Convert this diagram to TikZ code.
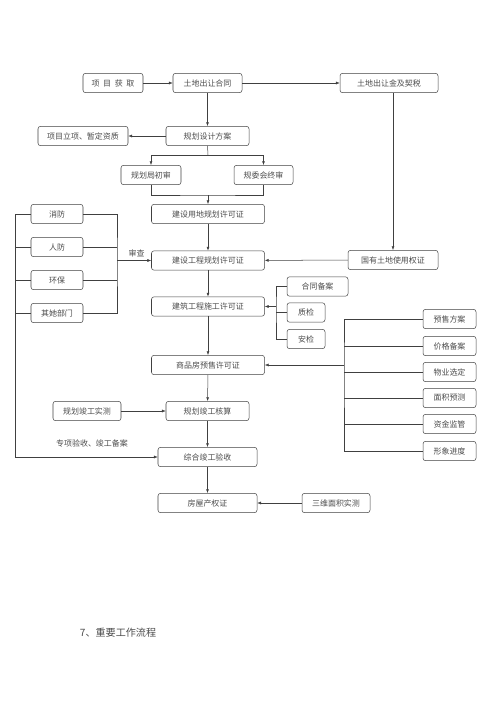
\documentclass[tikz,border=0pt]{standalone}
\usepackage{fontspec}
\newfontfamily\cjk{Noto Sans CJK SC}
\usetikzlibrary{arrows.meta}
\definecolor{linegray}{rgb}{0.25,0.25,0.25}
\definecolor{textgray}{rgb}{0.3,0.3,0.3}

\begin{document}
\begin{tikzpicture}[x=1.19pt,y=-1.19pt,
  box/.style={draw=linegray,rounded corners=3pt,line width=0.6pt,minimum height=23pt,minimum width=#1*1.19pt,inner sep=0pt,text=textgray,font=\cjk\fontsize{9.5}{11}\selectfont},
  box/.default=60,
  link/.style={draw=linegray,line width=0.6pt},
  arr/.style={link,-{Latex[length=4.5pt,width=3.5pt]}},
  note/.style={text=textgray,font=\cjk\fontsize{9.5}{11}\selectfont}]

  \useasboundingbox (0,0) rectangle (500,707);

  \node[box=60] (hq) at (113,83) {项\hspace{0.45em}目\hspace{0.45em}获\hspace{0.45em}取};
  \node[box=69] (ht) at (207.5,83) {土地出让合同};
  \node[box=98] (js) at (389,83) {土地出让金及契税};
  \node[box=83] (fa) at (207.5,136) {规划设计方案};
  \node[box=90] (lx) at (83,136) {项目立项、暂定资质};
  \node[box=60] (cs) at (151,175) {规划局初审};
  \node[box=59] (zs) at (263.5,175) {规委会终审};
  \node[box=113] (yd) at (208,214) {建设用地规划许可证};
  \node[box=113] (gc) at (208,260.5) {建设工程规划许可证};
  \node[box=113] (sg) at (208,306.5) {建筑工程施工许可证};
  \node[box=113] (ys) at (208,365) {商品房预售许可证};
  \node[box=83] (hs) at (207.5,411) {规划竣工核算};
  \node[box=99] (zh) at (207.5,457) {综合竣工验收};
  \node[box=99] (cq) at (207.5,503) {房屋产权证};
  \node[box=90] (gy) at (393,260) {国有土地使用权证};
  \node[box=68] (ss) at (87,411) {规划竣工实测};
  \node[box=68] (sw) at (336,503) {三维面积实测};

  \foreach \name/\txt/\y in {xf/消防/214, rf/人防/247, hb/环保/280, qt/其她部门/313}
    \node[box=52] (\name) at (57,\y) {\txt};

  \node[box=61] (ba) at (317.5,286.5) {合同备案};
  \node[box=38] (zj) at (306,312.5) {质检};
  \node[box=38] (aj) at (306,339) {安检};

  \foreach \name/\txt/\y in {ysfa/预售方案/319, jgba/价格备案/346, wyxd/物业选定/372,
                             mjyc/面积预测/398, zjjg/资金监管/424, xxjd/形象进度/451}
    \node[box=53] (\name) at (449.5,\y) {\txt};

  \coordinate (fork) at (208,155);
  \coordinate (join) at (208,195);
  \coordinate (lbus) at (15,457);
  \coordinate (rbus) at (117,260.5);
  \coordinate (qbus) at (276,306.5);
  \coordinate (sbus) at (344,365);

  \draw[arr] (hq) -- (ht);
  \draw[arr] (ht) -- (js);
  \draw[arr] (ht) -- (fa);
  \draw[arr] (fa) -- (lx);
  \draw[link] (fa.south) -- (fork);
  \draw[arr] (fork) -| (cs.north);
  \draw[arr] (fork) -| (zs.north);
  \draw[link] (cs.south) |- (join) -| (zs.south);
  \draw[arr] (join) -- (yd.north);
  \draw[arr] (yd) -- (gc);
  \draw[arr] (gy.north |- js.south) -- (gy.north);
  \draw[arr] (gy) -- (gc);
  \draw[arr] (gc) -- (sg);
  \draw[arr] (sg) -- (ys);
  \draw[arr] (ys) -- (hs);
  \draw[arr] (hs) -- (zh);
  \draw[arr] (zh) -- (cq);
  \draw[arr] (ss) -- (hs);
  \draw[arr] (sw) -- (cq);

  \draw[link] (xf.west) -| (lbus);
  \draw[link] (rf.west) -- (rf.west -| lbus);
  \draw[link] (hb.west) -- (hb.west -| lbus);
  \draw[link] (qt.west) -- (qt.west -| lbus);
  \draw[arr] (lbus) -- (zh.west);
  \draw[link] (xf.east) -| (rbus) |- (qt.east);
  \draw[link] (rf.east) -- (rf.east -| rbus);
  \draw[link] (hb.east) -- (hb.east -| rbus);
  \draw[arr] (rbus) -- node[note,above,xshift=3pt] (sc) {审查} (gc.west);

  \draw[link] (ba.west) -| (qbus) |- (aj.west);
  \draw[link] (zj.west) -- (zj.west -| qbus);
  \draw[arr] (qbus) -- (sg.east);

  \draw[link] (ysfa.west) -| (sbus) |- (xxjd.west);
  \foreach \name in {jgba,wyxd,mjyc,zjjg}
    \draw[link] (\name.west) -- (\name.west -| sbus);
  \draw[arr] (sbus) -- (ys.east);

  \node[note] (zx) at (92,443) {专项验收、竣工备案};

  \node[anchor=west,text=textgray,font=\cjk\fontsize{12}{14}\selectfont] (title) at (77,633) {7、重要工作流程};

\end{tikzpicture}
\end{document}
